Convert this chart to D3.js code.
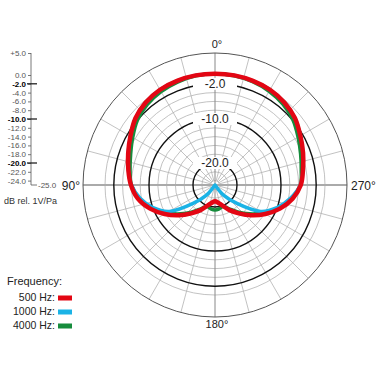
<!DOCTYPE html>
<html><head><meta charset="utf-8">
<script src="https://cdn.jsdelivr.net/npm/d3@7"></script>
<style>body{margin:0;background:#fff}svg{display:block}</style>
</head><body>
<script>
// angles measured counter-clockwise from 0° (top), 90° on the left
const angles = [0,10,20,30,40,50,60,70,80,90,100,110,120,130,140,150,160,170,180,
                190,200,210,220,230,240,250,260,270,280,290,300,310,320,330,340,350];
const red500 = [0.3,0.3,0.2,0,-0.5,-1.4,-2.8,-4.0,-5.0,-5.9,-7.2,-9.3,-11.8,-14.3,-16.6,-18.4,-20,-20.9,-21.3,
                -20.9,-20,-18.4,-16.6,-14.3,-11.8,-9.3,-7.1,-5.5,-4.7,-3.7,-2.6,-1.3,-0.5,0,0.2,0.3];
const blue1000 = [0.3,0.3,0.2,0,-0.5,-1.4,-2.8,-4.0,-5.0,-6.0,-7.7,-10.0,-13.0,-18.5,-22,-26,-30,-30,-30,
                  -30,-30,-26,-22,-18.5,-13.0,-10.0,-7.6,-5.6,-4.7,-3.7,-2.6,-1.3,-0.5,0,0.2,0.3];
const green4000 = [0.3,0.2,-0.1,-0.5,-1.1,-2.0,-3.4,-4.6,-5.4,-6.0,-7.5,-9.7,-12.3,-14.8,-17.0,-18.8,-19.8,-19.5,-19.3,
                   -19.5,-19.8,-18.8,-17.0,-14.8,-12.3,-9.7,-7.4,-5.6,-5.1,-4.3,-3.2,-1.9,-1.0,-0.4,0,0.2];
const scaleTicks = [5,0,-2,-4,-6,-8,-10,-12,-14,-16,-18,-20,-22,-24];
const boldRings = [-2,-10,-20];
const greyRings = [0,-4,-6,-8,-12,-14,-16,-18,-22,-24];
const spokeAngles = [15,30,45,60,75,105,120,135,150,165,195,210,225,240,255,285,300,315,330,345];
const angleLabels = ["0°","90°","180°","270°"];
const freqNames = ["500 Hz:","1000 Hz:","4000 Hz:"];
const freqColors = ["#e30613","#1bb3e6","#168c3c"];

const W=380,H=371,cx=215,cy=185,R=132;
const svg=d3.select("body").append("svg").attr("width",W).attr("height",H)
  .style("font-family","'Liberation Sans', Arial, sans-serif");
svg.append("rect").attr("width",W).attr("height",H).attr("fill","#fff");

const r=d3.scaleLinear().domain([-25,5]).range([0,R]).clamp(true);
const g=svg.append("g").attr("transform",`translate(${cx},${cy})`);
const rad=a=>a*Math.PI/180;

// grey rings
g.selectAll("circle.grey").data(greyRings).join("circle").attr("class","grey")
  .attr("r",d=>r(d)).attr("fill","none").attr("stroke","#b3b3b3").attr("stroke-width",0.8);
// spokes
g.selectAll("line.spoke").data(spokeAngles).join("line").attr("class","spoke")
  .attr("x1",d=>-r(-24)*Math.sin(rad(d))).attr("y1",d=>-r(-24)*Math.cos(rad(d)))
  .attr("x2",d=>-R*Math.sin(rad(d))).attr("y2",d=>-R*Math.cos(rad(d)))
  .attr("stroke","#b3b3b3").attr("stroke-width",0.8);
// vertical and horizontal axes
g.append("line").attr("x1",0).attr("x2",0).attr("y1",-R).attr("y2",R).attr("stroke","#888").attr("stroke-width",1);
g.append("line").attr("x1",-R).attr("x2",R).attr("y1",0).attr("y2",0).attr("stroke","#aaa").attr("stroke-width",2);
// outer ring
g.append("circle").attr("r",r(5)).attr("fill","none").attr("stroke","#555").attr("stroke-width",1);
// bold rings
g.selectAll("circle.bold").data(boldRings).join("circle").attr("class","bold")
  .attr("r",d=>r(d)).attr("fill","none").attr("stroke","#111").attr("stroke-width",1.4);

// ring labels
const lab=g.selectAll("g.rl").data(boldRings).join("g").attr("class","rl")
  .attr("transform",d=>`translate(0,${-r(d)})`);
lab.append("rect").attr("x",-22).attr("y",-6).attr("width",44).attr("height",12).attr("fill","#fff");
lab.append("text").attr("text-anchor","middle").attr("dy","0.36em").attr("font-size",12)
  .attr("fill","#222").text(d=>d.toFixed(1));

// curves
const line=d3.lineRadial().angle((d,i)=>-rad(angles[i])).radius(d=>r(d))
  .curve(d3.curveCatmullRomClosed.alpha(0.5));
const series=[{v:green4000,c:freqColors[2],w:3.5},{v:blue1000,c:freqColors[1],w:3.5},{v:red500,c:freqColors[0],w:4.5}];
g.selectAll("path.s").data(series).join("path").attr("class","s")
  .attr("d",d=>line(d.v)).attr("fill","none").attr("stroke",d=>d.c).attr("stroke-width",d=>d.w)
  .attr("stroke-linejoin","round");

// angle labels
svg.append("text").attr("x",217).attr("y",48).attr("text-anchor","middle").attr("font-size",11).attr("fill","#222").text(angleLabels[0]);
svg.append("text").attr("x",80).attr("y",190).attr("text-anchor","end").attr("font-size",12).attr("fill","#222").text(angleLabels[1]);
svg.append("text").attr("x",217).attr("y",328).attr("text-anchor","middle").attr("font-size",11).attr("fill","#222").text(angleLabels[2]);
svg.append("text").attr("x",351).attr("y",190).attr("text-anchor","start").attr("font-size",12).attr("fill","#222").text(angleLabels[3]);

// left dB scale
const y=d3.scaleLinear().domain([-25,5]).range([cy,cy-R]);
const ax=svg.append("g").attr("transform","translate(31,0)")
  .call(d3.axisLeft(y).tickValues(scaleTicks).tickSize(3).tickPadding(2).tickFormat(d=>(d>0?"+":"")+d.toFixed(1)));
ax.select(".domain").remove();
ax.selectAll("text").attr("font-size",8).attr("font-family","'Liberation Sans', Arial, sans-serif")
  .attr("fill",d=>boldRings.includes(d)?"#000":"#555").attr("font-weight",d=>boldRings.includes(d)?"bold":"normal");
ax.selectAll(".tick line").attr("stroke","#555").attr("stroke-width",0.8);
svg.append("path").attr("d",`M31,${y(5)}V${y(-25)}H37`).attr("fill","none").attr("stroke","#555").attr("stroke-width",0.8);
svg.selectAll("line.bt").data(boldRings).join("line").attr("class","bt")
  .attr("x1",27).attr("x2",37).attr("y1",d=>y(d)).attr("y2",d=>y(d)).attr("stroke","#222").attr("stroke-width",1.3);
svg.append("text").attr("x",38).attr("y",y(-25)+2.8).attr("font-size",8).attr("fill","#555").text("-25.0");
svg.append("text").attr("x",4).attr("y",204).attr("font-size",9).attr("fill","#333").text("dB rel. 1V/Pa");

// legend
svg.append("text").attr("x",7).attr("y",285).attr("font-size",11).attr("fill","#222").text("Frequency:");
const lg=svg.selectAll("g.lg").data(freqNames).join("g").attr("class","lg")
  .attr("transform",(d,i)=>`translate(0,${301+i*14})`);
lg.append("text").attr("x",55).attr("text-anchor","end").attr("font-size",10.5).attr("fill","#222").text(d=>d);
lg.append("rect").attr("x",58).attr("y",-5.5).attr("width",14).attr("height",5).attr("fill",(d,i)=>freqColors[i]);
</script>
</body></html>
